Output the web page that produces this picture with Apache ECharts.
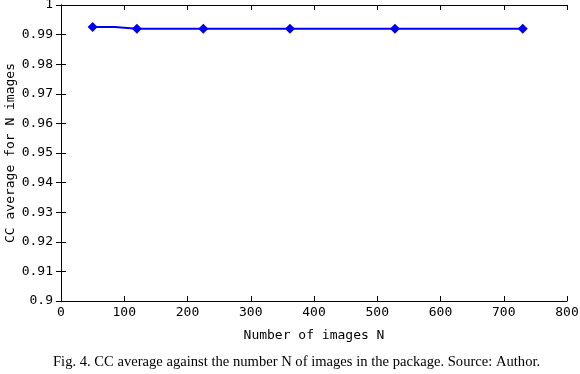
<!DOCTYPE html>
<html>
<head>
<meta charset="utf-8">
<script src="https://cdn.jsdelivr.net/npm/echarts@6/dist/echarts.min.js"></script>
<style>
  html, body { margin: 0; padding: 0; background: #fff; }
  #myChart { width: 580px; height: 374px; }
</style>
</head>
<body>
<div id="myChart"></div>
<script>
// number of images in the package
const imagesN = [50, 120, 225, 362, 528, 730];
// CC average
const ccAverage = [0.9926, 0.9920, 0.9920, 0.9920, 0.9920, 0.9920];
const caption = 'Fig. 4. CC average against the number N of images in the package. Source: Author.';

const chart = echarts.init(document.getElementById('myChart'));
const mono = 'DejaVu Sans Mono';

const boxAxis = {
  axisLine: { show: true, lineStyle: { color: '#000', width: 1 } },
  axisTick: { show: true, inside: true, length: 5, lineStyle: { color: '#000' } },
  splitLine: { show: false }
};

let option = {
  animation: false,
  backgroundColor: '#fff',
  grid: { left: 61, top: 5, right: 13, bottom: 73, containLabel: false, outerBoundsMode: 'none' },
  xAxis: [
    Object.assign({
      type: 'value', min: 0, max: 800, interval: 100,
      name: 'Number of images N',
      nameLocation: 'middle',
      nameGap: 28,
      nameMoveOverlap: false,
      nameTextStyle: { fontFamily: mono, fontSize: 13, color: '#000' },
      axisLabel: { fontFamily: mono, fontSize: 13, color: '#000', margin: 5 }
    }, boxAxis),
    Object.assign({
      type: 'value', min: 0, max: 800, interval: 100, position: 'top',
      axisLabel: { show: false }
    }, boxAxis)
  ],
  yAxis: [
    Object.assign({
      type: 'value', min: 0.9, max: 1, interval: 0.01,
      name: 'CC average for N images',
      nameLocation: 'middle',
      nameGap: 44,
      nameMoveOverlap: false,
      nameTextStyle: { fontFamily: mono, fontSize: 13, color: '#000' },
      axisLabel: { fontFamily: mono, fontSize: 13, color: '#000', margin: 8 }
    }, boxAxis),
    Object.assign({
      type: 'value', min: 0.9, max: 1, interval: 0.01, position: 'right',
      axisLabel: { show: false }
    }, boxAxis)
  ],
  series: [
    {
      type: 'line',
      step: 'middle',
      data: imagesN.map((n, i) => [n, ccAverage[i]]),
      symbol: 'diamond',
      symbolSize: 10,
      lineStyle: { color: '#0000ee', width: 2 },
      itemStyle: { color: '#0000ee' }
    }
  ],
  graphic: [
    {
      type: 'text',
      left: 53,
      top: 355,
      style: {
        text: caption,
        font: '14.6px "Liberation Serif"',
        fill: '#000'
      }
    }
  ]
};
chart.setOption(option);
</script>
</body>
</html>
